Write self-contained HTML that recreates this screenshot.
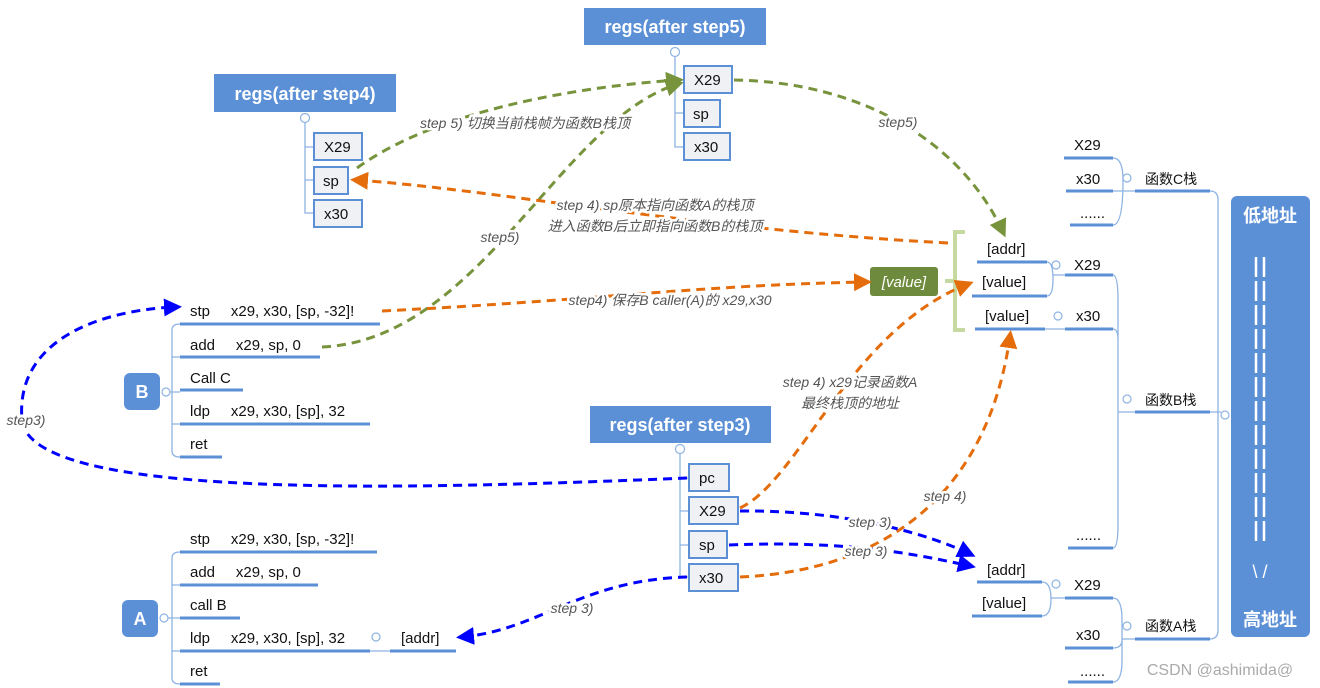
<!DOCTYPE html>
<html><head><meta charset="utf-8"><style>
body{margin:0;background:#fff;}
svg{display:block;font-family:"Liberation Sans","Noto Sans CJK SC",sans-serif;}
.t{font-size:15px;fill:#111;}
.u{stroke:#5b8fd6;stroke-width:3;fill:none;}
.c{stroke:#8db3e2;stroke-width:1.3;fill:none;}
.ci{fill:#fff;stroke:#8db3e2;stroke-width:1.2;}
.lb{font-size:14px;fill:#555;font-style:italic;paint-order:stroke;stroke:#fff;stroke-width:5px;stroke-linejoin:round;}
.bx{fill:#f0f1f4;stroke:#5b8fd6;stroke-width:2;}
.h{font-size:18px;font-weight:bold;fill:#fff;}
.o{stroke:#e46c0a;stroke-width:3;stroke-dasharray:9,6;fill:none;}
.g{stroke:#77933c;stroke-width:3;stroke-dasharray:9,6;fill:none;}
.b{stroke:#0000ff;stroke-width:3;stroke-dasharray:9,6;fill:none;}
</style></head><body>
<svg width="1320" height="688" viewBox="0 0 1320 688">
<defs>
<marker id="ao" markerWidth="6" markerHeight="6" refX="4" refY="3" orient="auto" markerUnits="strokeWidth"><path d="M0,0 L6,3 L0,6z" fill="#e46c0a"/></marker>
<marker id="ag" markerWidth="6" markerHeight="6" refX="4" refY="3" orient="auto" markerUnits="strokeWidth"><path d="M0,0 L6,3 L0,6z" fill="#77933c"/></marker>
<marker id="ab" markerWidth="6" markerHeight="6" refX="4" refY="3" orient="auto" markerUnits="strokeWidth"><path d="M0,0 L6,3 L0,6z" fill="#0000ff"/></marker>
</defs>

<rect x="584" y="8" width="182" height="37" fill="#5b8fd6"/><text x="675" y="33" text-anchor="middle" class="h">regs(after step5)</text>
<rect x="214" y="74" width="182" height="38" fill="#5b8fd6"/><text x="305" y="100" text-anchor="middle" class="h">regs(after step4)</text>
<rect x="590" y="406" width="181" height="37" fill="#5b8fd6"/><text x="680" y="431" text-anchor="middle" class="h">regs(after step3)</text>

<path class="c" d="M675,56 V147 H684 M675,80 H684 M675,113 H684"/>
<circle class="ci" cx="675" cy="52" r="4.5"/>
<rect class="bx" x="684" y="66" width="48" height="27"/><text class="t" x="694" y="85">X29</text>
<rect class="bx" x="684" y="100" width="36" height="27"/><text class="t" x="693" y="119">sp</text>
<rect class="bx" x="684" y="133" width="46" height="27"/><text class="t" x="694" y="152">x30</text>

<path class="c" d="M305,122 V213 H314 M305,147 H314 M305,180 H314"/>
<circle class="ci" cx="305" cy="118" r="4.5"/>
<rect class="bx" x="314" y="133" width="48" height="27"/><text class="t" x="324" y="152">X29</text>
<rect class="bx" x="314" y="167" width="34" height="27"/><text class="t" x="323" y="186">sp</text>
<rect class="bx" x="314" y="200" width="48" height="27"/><text class="t" x="324" y="219">x30</text>

<path class="c" d="M680,453 V577 H689 M680,478 H689 M680,511 H689 M680,545 H689"/>
<circle class="ci" cx="680" cy="449" r="4.5"/>
<rect class="bx" x="689" y="464" width="40" height="27"/><text class="t" x="699" y="483">pc</text>
<rect class="bx" x="689" y="497" width="49" height="27"/><text class="t" x="699" y="516">X29</text>
<rect class="bx" x="689" y="531" width="38" height="27"/><text class="t" x="699" y="550">sp</text>
<rect class="bx" x="689" y="564" width="49" height="27"/><text class="t" x="699" y="583">x30</text>

<rect x="124" y="373" width="36" height="37" rx="6" fill="#5b8fd6"/><text x="142" y="398" text-anchor="middle" class="h">B</text>
<circle class="ci" cx="166" cy="392" r="4"/>
<path class="c" d="M170,392 H180 M172,330 Q172,324 180,324 M172,330 V451 Q172,457 180,457 M172,357 H180 M172,424 H180"/>
<text class="t" x="190" y="316">stp&#160;&#160;&#160;&#160;&#160;x29, x30, [sp, -32]!</text><path class="u" d="M180,324 H380"/>
<text class="t" x="190" y="350">add&#160;&#160;&#160;&#160;&#160;x29, sp, 0</text><path class="u" d="M180,357 H320"/>
<text class="t" x="190" y="383">Call C</text><path class="u" d="M180,390 H243"/>
<text class="t" x="190" y="416">ldp&#160;&#160;&#160;&#160;&#160;x29, x30, [sp], 32</text><path class="u" d="M180,424 H370"/>
<text class="t" x="190" y="449">ret</text><path class="u" d="M180,457 H222"/>

<rect x="122" y="600" width="36" height="37" rx="6" fill="#5b8fd6"/><text x="140" y="625" text-anchor="middle" class="h">A</text>
<circle class="ci" cx="164" cy="618" r="4"/>
<path class="c" d="M168,618 H180 M172,558 Q172,552 180,552 M172,558 V678 Q172,684 180,684 M172,585 H180 M172,651 H180"/>
<text class="t" x="190" y="544">stp&#160;&#160;&#160;&#160;&#160;x29, x30, [sp, -32]!</text><path class="u" d="M180,552 H377"/>
<text class="t" x="190" y="577">add&#160;&#160;&#160;&#160;&#160;x29, sp, 0</text><path class="u" d="M180,585 H318"/>
<text class="t" x="190" y="610">call B</text><path class="u" d="M180,618 H240"/>
<text class="t" x="190" y="643">ldp&#160;&#160;&#160;&#160;&#160;x29, x30, [sp], 32</text><path class="u" d="M180,651 H370"/>
<text class="t" x="190" y="676">ret</text><path class="u" d="M180,684 H220"/>
<circle class="ci" cx="376" cy="637" r="4"/>
<path class="c" d="M370,651 H390"/>
<text class="t" x="401" y="643">[addr]</text><path class="u" d="M390,651 H456"/>

<path d="M965,232 H955 V330 H965" stroke="#c5d9a0" stroke-width="4" fill="none"/>
<path d="M955,281 H945" stroke="#c5d9a0" stroke-width="4"/>
<text class="t" x="987" y="254">[addr]</text><path class="u" d="M977,262 H1047"/>
<text class="t" x="982" y="287">[value]</text><path class="u" d="M972,296 H1047"/>
<path class="c" d="M1047,262 Q1053,262 1053,279 Q1053,296 1047,296 M1053,275 H1065"/>
<circle class="ci" cx="1056" cy="265" r="4"/>
<text class="t" x="985" y="321">[value]</text><path class="u" d="M975,329 H1045"/>
<circle class="ci" cx="1058" cy="316" r="4"/>
<path class="c" d="M1045,329 H1065"/>
<text class="t" x="1074" y="270">X29</text><path class="u" d="M1065,275 H1113"/>
<text class="t" x="1076" y="321">x30</text><path class="u" d="M1065,329 H1113"/>
<path class="c" d="M1113,275 Q1118,275 1118,300 V525 Q1118,548 1113,548 M1113,329 Q1118,329 1118,340 M1118,412 H1135"/>
<text class="t" x="1076" y="540">......</text><path class="u" d="M1068,548 H1113"/>
<circle class="ci" cx="1127" cy="399" r="4"/>
<text class="t" x="1145" y="405" style="font-size:14px">函数B栈</text><path class="u" d="M1135,412 H1210"/>

<text class="t" x="1074" y="150">X29</text><path class="u" d="M1064,158 H1113"/>
<text class="t" x="1076" y="184">x30</text><path class="u" d="M1066,191 H1113"/>
<text class="t" x="1080" y="218">......</text><path class="u" d="M1070,225 H1113"/>
<path class="c" d="M1113,158 Q1123,158 1123,180 Q1123,225 1113,225 M1113,191 H1135"/>
<circle class="ci" cx="1127" cy="178" r="4"/>
<text class="t" x="1145" y="184" style="font-size:14px">函数C栈</text><path class="u" d="M1135,191 H1210"/>

<text class="t" x="987" y="575">[addr]</text><path class="u" d="M977,582 H1042"/>
<text class="t" x="982" y="608">[value]</text><path class="u" d="M972,616 H1042"/>
<path class="c" d="M1042,582 Q1051,582 1051,599 Q1051,616 1042,616 M1051,598 H1065"/>
<circle class="ci" cx="1056" cy="584" r="4"/>
<text class="t" x="1074" y="590">X29</text><path class="u" d="M1065,598 H1113"/>
<text class="t" x="1076" y="640">x30</text><path class="u" d="M1065,648 H1113"/>
<text class="t" x="1080" y="676">......</text><path class="u" d="M1068,682 H1113"/>
<path class="c" d="M1113,598 Q1122,598 1122,620 V660 Q1122,682 1113,682 M1113,648 Q1122,648 1122,640 M1122,639 H1135"/>
<circle class="ci" cx="1127" cy="626" r="4"/>
<text class="t" x="1145" y="631" style="font-size:14px">函数A栈</text><path class="u" d="M1135,639 H1210"/>

<path class="c" d="M1210,191 Q1218,191 1218,200 V630 Q1218,639 1210,639 M1210,412 H1221"/>
<circle class="ci" cx="1225" cy="415" r="4"/>
<rect x="1231" y="196" width="79" height="441" rx="6" fill="#5b8fd6"/>
<text x="1270" y="222" text-anchor="middle" class="h">低地址</text>
<g stroke="#fff" stroke-width="2.5">
<path d="M1256,257 V545 M1264,257 V545" stroke-dasharray="20,4"/>
</g>
<text x="1260" y="578" text-anchor="middle" class="h" style="font-weight:normal">\ /</text>
<text x="1270" y="626" text-anchor="middle" class="h">高地址</text>

<rect x="870" y="267" width="68" height="29" rx="3" fill="#6e8b3d"/>
<text x="904" y="287" text-anchor="middle" style="font-size:15px;font-style:italic;fill:#fff">[value]</text>

<path class="g" d="M734,80 C860,82 960,140 1003,232" marker-end="url(#ag)"/>
<path class="g" d="M357,168 C430,115 560,88 678,80" marker-end="url(#ag)"/>
<path class="g" d="M322,347 C480,340 560,120 678,84" marker-end="url(#ag)"/>
<path class="o" d="M948,243 C700,230 500,190 356,180" marker-end="url(#ao)"/>
<path class="o" d="M382,311 C600,300 700,285 866,282" marker-end="url(#ao)"/>
<path class="o" d="M740,508 C800,480 850,330 968,284" marker-end="url(#ao)"/>
<path class="o" d="M740,577 C900,570 990,480 1010,336" marker-end="url(#ao)"/>
<path class="b" d="M687,478 C400,490 30,500 22,420 C15,340 100,310 176,307" marker-end="url(#ab)"/>
<path class="b" d="M740,511 C850,510 930,535 970,554" marker-end="url(#ab)"/>
<path class="b" d="M729,545 C850,540 920,555 970,566" marker-end="url(#ab)"/>
<path class="b" d="M687,577 C580,580 540,630 462,637" marker-end="url(#ab)"/>

<g class="lb">
<text x="898" y="127" text-anchor="middle">step5)</text>
<text x="525" y="128" text-anchor="middle">step 5) 切换当前栈帧为函数B栈顶</text>
<text x="655" y="210" text-anchor="middle">step 4) sp原本指向函数A的栈顶</text>
<text x="655" y="231" text-anchor="middle">进入函数B后立即指向函数B的栈顶</text>
<text x="500" y="242" text-anchor="middle">step5)</text>
<text x="670" y="305" text-anchor="middle">step4) 保存B caller(A)的 x29,x30</text>
<text x="850" y="387" text-anchor="middle">step 4) x29记录函数A</text>
<text x="850" y="408" text-anchor="middle">最终栈顶的地址</text>
<text x="945" y="501" text-anchor="middle">step 4)</text>
<text x="870" y="527" text-anchor="middle">step 3)</text>
<text x="866" y="556" text-anchor="middle">step 3)</text>
<text x="572" y="613" text-anchor="middle">step 3)</text>
<text x="26" y="425" text-anchor="middle">step3)</text>
</g>
<text x="1220" y="675" text-anchor="middle" style="font-size:16px;fill:#aaa">CSDN @ashimida@</text>
</svg>
</body></html>
